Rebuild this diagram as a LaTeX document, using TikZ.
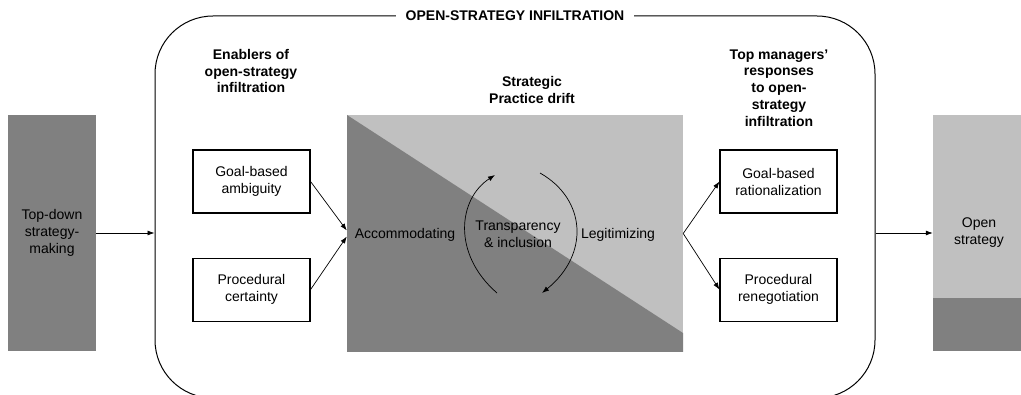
\documentclass[tikz,border=0pt]{standalone}
\usepackage{fontspec}
\setmainfont{Liberation Sans}
\usetikzlibrary{calc}
\usetikzlibrary{positioning}
\usetikzlibrary{arrows.meta}
\definecolor{darkfill}{RGB}{128,128,128}
\definecolor{lightfill}{RGB}{192,192,192}
\tikzset{
	>={Latex[length=7pt,width=5pt]},
	punkt/.style={
		rectangle,
		draw=black, line width=1.1pt,
		minimum width=117pt,
		minimum height=63pt,
		inner sep=0pt,
		align=center},
	saeule/.style={
		rectangle,
		minimum height=236pt,
		inner sep=0pt,
		align=center},
	rahmen/.style={
		rectangle,
		draw=black, line width=1pt,
		rounded corners=58pt,
		minimum width=720pt,
		minimum height=382pt,
		inner sep=0pt},
	kopf/.style={
		font=\fontsize{14}{16.8}\selectfont\bfseries,
		align=center},
	titel/.style={
		fill=white,
		inner xsep=10pt,
		font=\fontsize{14}{17}\selectfont\bfseries},
	pfeil/.style={draw, ->, line width=0.7pt},
}

\begin{document}
\begin{tikzpicture}
		[x=1pt, y=1pt, font=\fontsize{14}{17}\selectfont]
		\useasboundingbox (0,0) rectangle (1021,394);
		% outer frame, its lower edge runs off the page
		\node[rahmen] (frame) at (515,187) {};
		\node[titel] (titel) at (frame.north) {OPEN-STRATEGY INFILTRATION};

		% column headings
		\node[kopf] (enabler) at (251,323) {Enablers of\\open-strategy\\infiltration};
		\node[kopf] (driftkopf) at (532,304) {Strategic\\Practice drift};
		\node[kopf] (response) at (779,306) {Top managers'\\responses\\to open-\\strategy\\infiltration};

		% start and end state
		\node[saeule, fill=darkfill, minimum width=88pt] (topdown) at (52,161) {Top-down\\strategy-\\making};
		\node[saeule, fill=lightfill, minimum width=92pt,
		path picture={\fill[darkfill] (path picture bounding box.south west) rectangle ($(path picture bounding box.south east)+(0,53)$);}] (open) at (979,161) {Open\\strategy};

		% drift square, split along the diagonal
		\node[rectangle, fill=lightfill, minimum width=336pt, minimum height=237pt, inner sep=0pt,
		path picture={\fill[darkfill] (path picture bounding box.north west) -- ($(path picture bounding box.south east)+(0,19)$) -- (path picture bounding box.south east) -- (path picture bounding box.south west) -- cycle;}] (drift) at (515,160.5) {};
		\node (accom) at (405,159) {Accommodating};
		\node[align=center] (transp) at (518,159.5) {Transparency\\\& inclusion};
		\node (legit) at (618,159) {Legitimizing};

		% enablers
		\node[punkt] (ambig) at (251.5,212.5) {Goal-based\\ambiguity};
		\node[punkt, below=44pt of ambig] (certain) {Procedural\\certainty};

		% responses
		\node[punkt] (ration) at (778.5,212.5) {Goal-based\\rationalization};
		\node[punkt, below=44pt of ration] (reneg) {Procedural\\renegotiation};

		% connectors
		\path[pfeil] (topdown.east) -- (topdown.east -| frame.west);
		\path[pfeil] (open.west -| frame.east) -- (open.west);
		\path[pfeil] (ambig.east) -- ([yshift=3pt]drift.west);
		\path[pfeil] (certain.east) -- ([yshift=-3pt]drift.west);
		\path[pfeil] (drift.east) -- (ration.west);
		\path[pfeil] (drift.east) -- (reneg.west);

		% cycle around transparency
		\coordinate (aufA) at (497,101);
		\coordinate (aufB) at (495,219);
		\coordinate (abA) at (540,221);
		\coordinate (abB) at (542,101);
		\path[pfeil] (aufA) .. controls (452,140) and (458,195) .. (aufB);
		\path[pfeil] (abA) .. controls (586,195) and (590,140) .. (abB);
\end{tikzpicture}
\end{document}
